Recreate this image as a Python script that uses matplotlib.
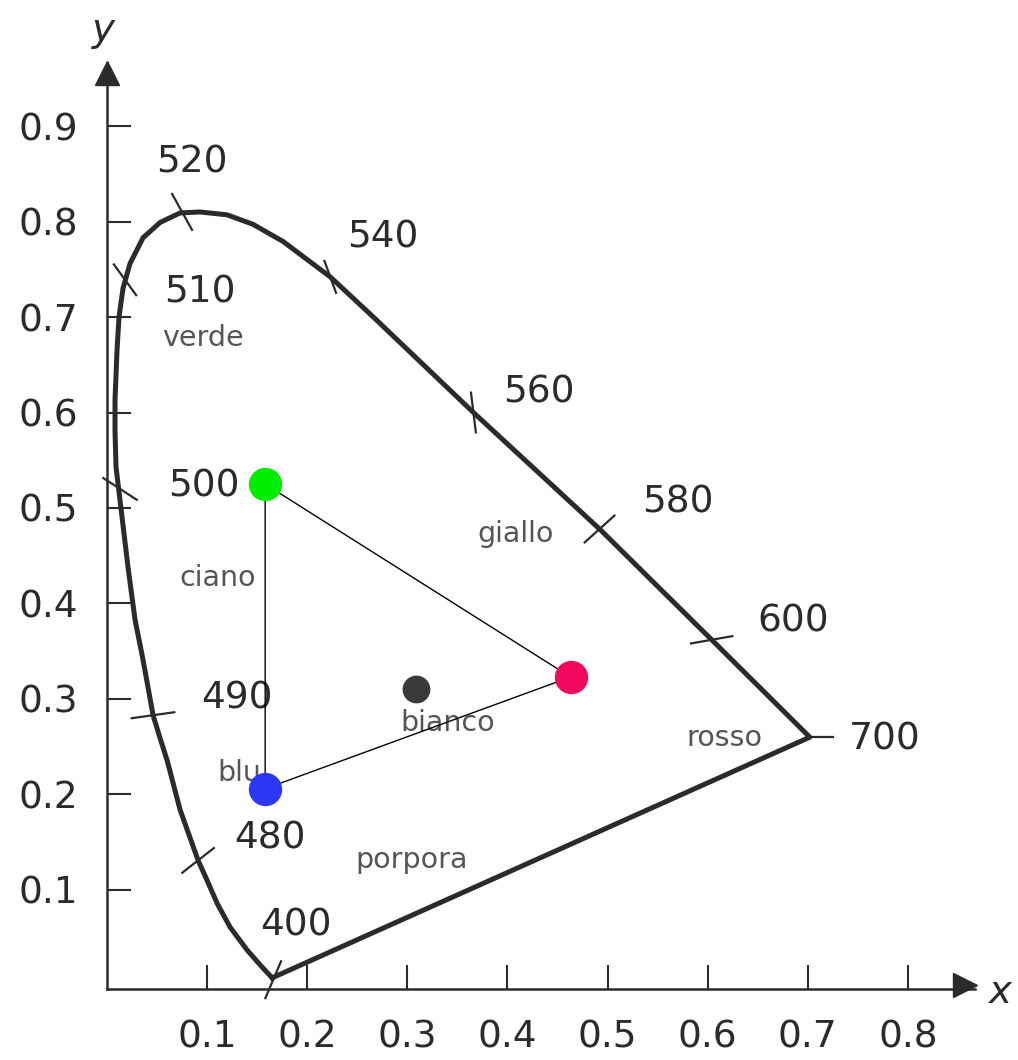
import numpy as np
import matplotlib.pyplot as plt

# spectral locus (from 400 nm round to 700 nm)
locus_x = [0.165, 0.156, 0.140, 0.123, 0.110, 0.100, 0.091, 0.073, 0.060, 0.053,
           0.046, 0.036, 0.028, 0.021, 0.013, 0.009, 0.008, 0.008, 0.010, 0.012,
           0.016, 0.023, 0.036, 0.053, 0.073, 0.093, 0.120, 0.146, 0.176, 0.223,
           0.266, 0.366, 0.493, 0.604, 0.702]
locus_y = [0.008, 0.018, 0.037, 0.061, 0.086, 0.110, 0.131, 0.184, 0.236, 0.259,
           0.283, 0.341, 0.383, 0.438, 0.508, 0.543, 0.581, 0.613, 0.665, 0.700,
           0.730, 0.756, 0.783, 0.799, 0.809, 0.810, 0.807, 0.797, 0.779, 0.742,
           0.700, 0.600, 0.477, 0.362, 0.260]

# wavelength marks on the locus
mark_wl = ['400', '480', '490', '500', '510', '520', '540', '560', '580', '600', '700']
mark_x = [0.166, 0.091, 0.046, 0.013, 0.018, 0.075, 0.223, 0.366, 0.492, 0.604, 0.702]
mark_y = [0.006, 0.131, 0.283, 0.520, 0.739, 0.810, 0.742, 0.600, 0.478, 0.362, 0.260]

# primaries and white point
prim_names = ['verde', 'blu', 'rosso']
prim_x = [0.158, 0.158, 0.463]
prim_y = [0.525, 0.206, 0.323]
white_x, white_y = 0.309, 0.310

# colour names written inside the diagram
names = ['verde', 'ciano', 'giallo', 'bianco', 'rosso', 'blu', 'porpora']
name_x = [0.096, 0.110, 0.408, 0.340, 0.617, 0.132, 0.304]
name_y = [0.678, 0.427, 0.473, 0.275, 0.259, 0.222, 0.131]

xticks = [0.1, 0.2, 0.3, 0.4, 0.5, 0.6, 0.7, 0.8]
yticks = [0.1, 0.2, 0.3, 0.4, 0.5, 0.6, 0.7, 0.8, 0.9]

# --- layout / style ---
ink = '#2b2b2b'
tick_ang = {'400': 67, '480': 38, '490': 8, '500': -33, '510': -54, '520': -61,
            '540': -70, '560': -83, '580': 42, '600': 10, '700': 0}
tick_len = {'400': 40, '480': 40, '490': 43, '500': 40, '510': 38, '520': 41,
            '540': 34, '560': 40, '580': 40, '600': 42, '700': 23}
lab_pos = {'400': (0.189, 0.063), '480': (0.163, 0.154), '490': (0.130, 0.301),
           '500': (0.097, 0.522), '510': (0.093, 0.726), '520': (0.085, 0.862),
           '540': (0.275, 0.783), '560': (0.431, 0.621), '580': (0.570, 0.506),
           '600': (0.685, 0.381), '700': (0.777, 0.258)}
prim_col = ['#00ec00', '#2b38f5', '#f2095f']

fig = plt.figure(figsize=(10.18, 10.60), dpi=100)
ax = fig.add_axes([107/1018, 71/1060, (975-107)/1018, (989-63)/1060])
ax.set_xlim(0, 0.867)
ax.set_ylim(-0.0037, 0.966)

for s in ['top', 'right']:
    ax.spines[s].set_visible(False)
for s in ['left', 'bottom']:
    ax.spines[s].set_linewidth(1.8)
    ax.spines[s].set_color(ink)

ax.set_xticks(xticks)
ax.set_xticklabels([f'{v:.1f}' for v in xticks])
ax.set_yticks(yticks)
ax.set_yticklabels([f'{v:.1f}' for v in yticks])
ax.tick_params(axis='both', direction='in', length=17, width=1.5, color=ink,
               labelsize=27, labelcolor=ink)
ax.tick_params(axis='x', pad=22)
ax.tick_params(axis='y', pad=21)

# axis arrows
ax.plot(1 - 10/868, 0, '>', color=ink, ms=17, transform=ax.get_yaxis_transform(), clip_on=False)
ax.plot(0, 1 - 10/926, '^', color=ink, ms=17, transform=ax.get_xaxis_transform(), clip_on=False)
fig.text(1000/1018, 1 - 992/1060, 'x', fontsize=28, style='italic', color=ink,
         ha='center', va='center')
fig.text(103/1018, 1 - 30/1060, 'y', fontsize=28, style='italic', color=ink,
         ha='center', va='center')

# locus + purple line
lx = locus_x + [locus_x[0]]
ly = locus_y + [locus_y[0]]
ax.plot(lx, ly, color=ink, lw=3.6, solid_joinstyle='round', clip_on=False)

# wavelength marks
for wl, mx, my in zip(mark_wl, mark_x, mark_y):
    px, py = ax.transData.transform((mx, my))
    a = np.deg2rad(tick_ang[wl])
    L = tick_len[wl]
    if wl == '700':
        p0 = (px, py)
        p1 = (px + L*np.cos(a), py + L*np.sin(a))
    else:
        p0 = (px - L/2*np.cos(a), py - L/2*np.sin(a))
        p1 = (px + L/2*np.cos(a), py + L/2*np.sin(a))
    d = ax.transData.inverted().transform([p0, p1])
    ax.plot(d[:, 0], d[:, 1], color=ink, lw=1.6, clip_on=False)
    tx, ty = lab_pos[wl]
    ax.text(tx, ty, wl, fontsize=27, color=ink, ha='center', va='center')

# colour names
for n, nx, ny in zip(names, name_x, name_y):
    ax.text(nx, ny, n, fontsize=20.5, color='#555555', ha='center', va='center')

# gamut triangle
tri_x = prim_x + [prim_x[0]]
tri_y = prim_y + [prim_y[0]]
ax.plot(tri_x, tri_y, color='black', lw=1.0, zorder=3)
for px_, py_, c in zip(prim_x, prim_y, prim_col):
    ax.plot(px_, py_, 'o', color=c, ms=24, mec='none', zorder=4)
ax.plot(white_x, white_y, 'o', color='#3a3a3a', ms=20, mec='none', zorder=4)

fig.savefig('out.png', dpi=100)
